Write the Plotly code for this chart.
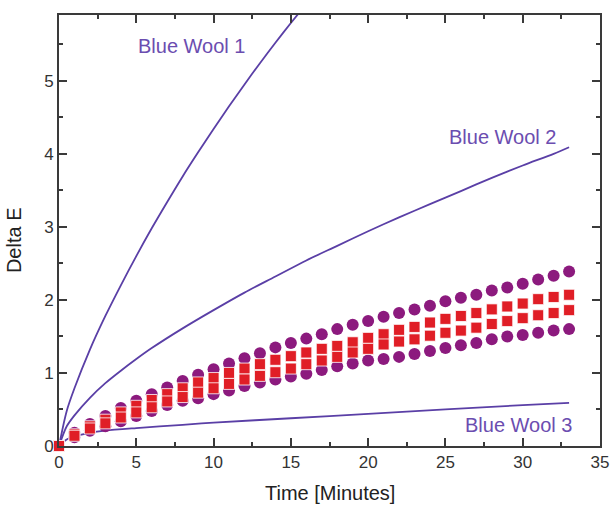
import plotly.graph_objects as go

# ---- data ----
t_pts = list(range(0, 34))
circ_upper = [0, 0.18, 0.30, 0.41, 0.52, 0.62, 0.71, 0.80, 0.89, 0.975, 1.05, 1.13, 1.20, 1.27,
              1.35, 1.41, 1.47, 1.53, 1.60, 1.66, 1.71, 1.77, 1.82, 1.87, 1.92, 1.98, 2.03,
              2.07, 2.13, 2.17, 2.22, 2.28, 2.33, 2.39]
circ_lower = [0, 0.12, 0.21, 0.27, 0.34, 0.41, 0.48, 0.56, 0.62, 0.655, 0.71, 0.76, 0.82, 0.87,
              0.91, 0.95, 0.99, 1.04, 1.09, 1.13, 1.17, 1.19, 1.22, 1.26, 1.30, 1.34, 1.38,
              1.41, 1.46, 1.50, 1.52, 1.55, 1.58, 1.60]
sq_upper = [0, 0.16, 0.27, 0.36, 0.46, 0.55, 0.63, 0.71, 0.79, 0.87, 0.93, 1.00, 1.06, 1.12,
            1.18, 1.23, 1.28, 1.33, 1.37, 1.42, 1.48, 1.53, 1.59, 1.63, 1.69, 1.74, 1.78,
            1.82, 1.87, 1.91, 1.95, 2.01, 2.04, 2.07]
sq_lower = [0, 0.14, 0.24, 0.31, 0.39, 0.46, 0.53, 0.61, 0.67, 0.73, 0.79, 0.85, 0.91, 0.96,
            1.01, 1.06, 1.12, 1.17, 1.22, 1.28, 1.33, 1.39, 1.43, 1.46, 1.51, 1.55, 1.58,
            1.62, 1.67, 1.71, 1.75, 1.79, 1.82, 1.86]

bw1_t = [0, 0.5, 1, 2, 3, 4, 5, 6, 7, 8, 9, 10, 11, 12, 13, 14, 15, 15.8]
bw1_y = [0, 0.48, 0.79, 1.32, 1.78, 2.20, 2.60, 2.98, 3.34, 3.69, 4.02, 4.34, 4.65, 4.95,
         5.24, 5.52, 5.79, 6.00]
bw2_t = [0, 0.5, 1, 2, 3, 4, 5, 6, 8, 10, 12, 14, 16, 18, 20, 22, 24, 26, 28, 30, 32, 33]
bw2_y = [0, 0.27, 0.42, 0.66, 0.86, 1.03, 1.19, 1.34, 1.61, 1.86, 2.10, 2.32, 2.54, 2.74,
         2.94, 3.13, 3.31, 3.49, 3.67, 3.84, 4.00, 4.09]
bw3_t = [0, 0.5, 1, 2, 3, 5, 8, 10, 15, 20, 25, 30, 33]
bw3_y = [0, 0.09, 0.13, 0.18, 0.21, 0.245, 0.29, 0.32, 0.38, 0.44, 0.50, 0.56, 0.59]

labels = ["Blue Wool 1", "Blue Wool 2", "Blue Wool 3"]
label_x = [8.55, 28.7, 29.75]
label_y = [5.47, 4.23, 0.29]

x_ticks = [0, 5, 10, 15, 20, 25, 30, 35]
y_ticks = [0, 1, 2, 3, 4, 5]
x_title = "Time [Minutes]"
y_title = "Delta E"

LINE_C = "#5a3fa6"
TEXT_C = "#6b4db0"
CIRC_C = "#8c1a7e"
SQ_C = "#e01e26"
FONT = "Liberation Sans, Arial, sans-serif"

fig = go.Figure()
for tx, ty in [(bw1_t, bw1_y), (bw2_t, bw2_y), (bw3_t, bw3_y)]:
    fig.add_trace(go.Scatter(x=tx, y=ty, mode="lines", line=dict(color=LINE_C, width=1.8, shape="spline", smoothing=0.8),
                             showlegend=False, hoverinfo="skip"))
for cy in [circ_upper, circ_lower]:
    fig.add_trace(go.Scatter(x=t_pts, y=cy, mode="markers",
                             marker=dict(symbol="circle", size=12, color=CIRC_C, line=dict(width=0)),
                             showlegend=False, cliponaxis=False))
for sy in [sq_upper, sq_lower]:
    fig.add_trace(go.Scatter(x=t_pts, y=sy, mode="markers",
                             marker=dict(symbol="square", size=11, color=SQ_C,
                                         line=dict(width=0.8, color="white")),
                             showlegend=False, cliponaxis=False))

for lab, lx, ly in zip(labels, label_x, label_y):
    fig.add_annotation(x=lx, y=ly, text=lab, showarrow=False,
                       font=dict(family=FONT, size=20, color=TEXT_C))

# axis titles (placed as paper annotations to keep plot area fixed)
fig.add_annotation(xref="paper", yref="paper", x=0.501, y=-0.109, text=x_title, showarrow=False,
                   xanchor="center", yanchor="middle", font=dict(family=FONT, size=20, color="#222"))
fig.add_annotation(xref="paper", yref="paper", x=-0.083, y=0.478, text=y_title, showarrow=False,
                   textangle=-90, xanchor="center", yanchor="middle", font=dict(family=FONT, size=20, color="#222"))

axis_common = dict(showgrid=False, zeroline=False, showline=True, linecolor="#3a3a3a", linewidth=2,
                   mirror="allticks", ticks="inside", ticklen=8, tickwidth=1.5, tickcolor="#3a3a3a",
                   automargin=False, tickfont=dict(family=FONT, size=17, color="#333"))
fig.update_xaxes(range=[0, 35], tickmode="array", tickvals=x_ticks,
                 minor=dict(ticks="inside", ticklen=4, tickwidth=1.5, tickcolor="#3a3a3a", dtick=2.5),
                 **axis_common)
fig.update_yaxes(range=[0, 5.9], tickmode="array", tickvals=y_ticks,
                 minor=dict(ticks="inside", ticklen=4, tickwidth=1.5, tickcolor="#3a3a3a", dtick=0.5),
                 **axis_common)
fig.update_layout(width=611, height=505, margin=dict(l=59, r=11, t=15, b=59),
                  paper_bgcolor="white", plot_bgcolor="white", font=dict(family=FONT))
fig.write_html("out.html")
